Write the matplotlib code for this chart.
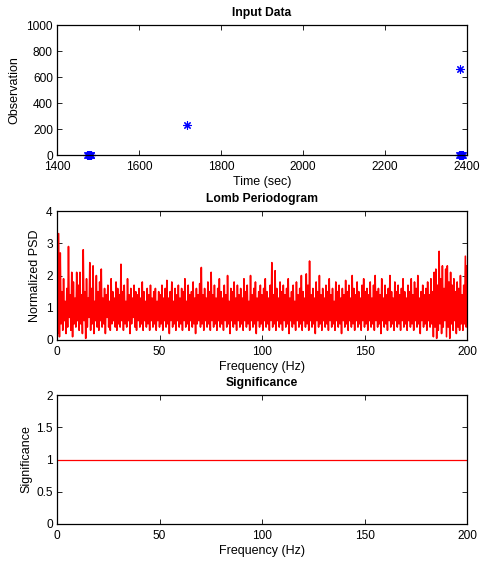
import numpy as np
import matplotlib
matplotlib.use("Agg")
import matplotlib.pyplot as plt

plt.rcParams["font.family"] = ["Liberation Sans", "DejaVu Sans"]
plt.rcParams["font.size"] = 9

# Input samples: time stamps (sec) and observed values
obs_time = [1474, 1476, 1478, 1480, 1482, 1484, 1717, 2383,
            2381, 2383, 2385, 2387, 2389, 2391]
obs_value = [0, 0, 0, 0, 0, 0, 233, 661,
             0, 0, 0, 0, 0, 0]

# Lomb periodogram (normalized PSD), evaluated on a 0..200 Hz grid
psd = [
    4.0, 0.2, 3.3, 0.1, 2.7, 0.5, 1.5, 0.3, 1.9, 0.6, 1.2, 0.2, 1.6, 0.4, 2.9, 0.7, 1.4, 0.3, 2.1, 0.1, 1.8, 0.5, 1.3, 0.4, 2.1,
    0.6, 1.7, 0.3, 2.1, 0.5, 1.4, 0.2, 2.8, 0.6, 1.5, 0.05, 1.9, 0.4, 1.3, 0.7, 2.4, 0.3, 1.6, 0.5, 2.3, 0.2, 1.2, 0.6, 2.0, 0.4,
    1.5, 0.3, 1.8, 0.6, 2.2, 0.4, 1.3, 0.5, 1.6, 0.2, 1.4, 0.7, 1.7, 0.4, 1.2, 0.3, 1.9, 0.5, 1.5, 0.6, 1.3, 0.4, 1.8, 0.3, 1.6,
    0.5, 1.4, 0.4, 2.35, 0.6, 1.5, 0.3, 1.7, 0.5, 1.2, 0.4, 1.9, 0.6, 1.4, 0.2, 1.6, 0.5, 1.3, 0.7, 1.7, 0.4, 1.5, 0.3, 1.4, 0.6,
    1.6, 0.4, 1.3, 0.5, 1.8, 0.3, 1.5, 0.6, 1.2, 0.4, 1.6, 0.5, 1.4, 0.3, 1.7, 0.6, 1.3, 0.4, 1.5, 0.5, 1.6, 0.3, 1.2, 0.6, 1.5,
    0.4, 1.4, 0.5, 1.7, 0.3, 1.3, 0.6, 1.6, 0.4, 1.85, 0.5, 1.3, 0.2, 1.5, 0.6, 1.8, 0.4, 1.2, 0.5, 1.6, 0.3, 1.4, 0.6, 1.7, 0.4,
    1.3, 0.5, 1.6, 0.3, 1.5, 0.6, 1.9, 0.4, 1.2, 0.5, 1.7, 0.3, 1.4, 0.6, 1.5, 0.4, 1.8, 0.5, 1.3, 0.2, 1.6, 0.5, 1.4, 0.6, 1.75,
    0.4, 2.25, 0.5, 1.4, 0.3, 1.6, 0.6, 1.3, 0.4, 1.8, 0.5, 1.5, 0.3, 2.1, 0.6, 1.4, 0.4, 1.7, 0.5, 1.3, 0.3, 1.6, 0.6, 1.9, 0.4,
    1.5, 0.5, 1.3, 0.3, 1.7, 0.6, 1.4, 0.4, 2.0, 0.5, 1.2, 0.2, 1.6, 0.6, 1.5, 0.4, 1.8, 0.5, 1.3, 0.3, 1.7, 0.6, 1.4, 0.4, 1.6,
    0.5, 1.3, 0.3, 1.9, 0.6, 1.5, 0.4, 1.7, 0.5, 1.2, 0.3, 2.0, 0.6, 1.4, 0.4, 1.6, 0.5, 1.8, 0.2, 1.3, 0.6, 1.5, 0.4, 1.7, 0.5,
    1.4, 0.3, 1.6, 0.6, 1.9, 0.4, 1.5, 0.5, 1.3, 0.3, 1.7, 0.6, 2.4, 0.4, 1.4, 0.5, 2.15, 0.3, 1.6, 0.6, 1.3, 0.4, 1.8, 0.5, 1.5,
    0.3, 1.7, 0.6, 1.4, 0.4, 1.6, 0.5, 1.9, 0.2, 1.3, 0.6, 1.5, 0.4, 1.7, 0.5, 1.2, 0.3, 1.8, 0.6, 1.4, 0.4, 1.6, 0.5, 2.0, 0.3,
    1.5, 0.6, 1.3, 0.4, 2.05, 0.5, 1.7, 0.3, 2.45, 0.6, 1.4, 0.4, 1.6, 0.5, 1.3, 0.2, 1.8, 0.6, 1.5, 0.4, 2.0, 0.5, 1.4, 0.3, 1.6,
    0.6, 1.3, 0.4, 1.7, 0.5, 1.5, 0.3, 1.9, 0.6, 1.4, 0.4, 1.6, 0.5, 1.2, 0.3, 1.8, 0.6, 1.5, 0.4, 1.7, 0.5, 1.3, 0.2, 1.6, 0.6,
    1.4, 0.4, 1.85, 0.5, 1.5, 0.3, 1.7, 0.6, 1.3, 0.4, 2.0, 0.5, 1.6, 0.3, 1.4, 0.6, 1.8, 0.4, 1.5, 0.5, 1.3, 0.3, 1.7, 0.6, 1.9,
    0.4, 1.5, 0.5, 1.6, 0.3, 1.4, 0.6, 1.8, 0.4, 1.3, 0.5, 1.7, 0.3, 2.0, 0.6, 1.5, 0.4, 1.6, 0.5, 1.4, 0.2, 1.9, 0.6, 1.3, 0.4,
    1.7, 0.5, 1.4, 0.3, 1.6, 0.6, 2.0, 0.4, 1.5, 0.5, 1.3, 0.3, 1.8, 0.6, 1.5, 0.4, 1.7, 0.5, 1.4, 0.3, 1.6, 0.6, 1.9, 0.4, 1.5,
    0.5, 1.3, 0.3, 1.7, 0.6, 1.5, 0.4, 1.9, 0.5, 1.4, 0.3, 1.8, 0.6, 1.6, 0.4, 2.0, 0.5, 1.3, 0.2, 1.5, 0.6, 1.7, 0.4, 1.4, 0.5,
    1.6, 0.3, 1.8, 0.6, 1.4, 0.4, 1.9, 0.5, 1.5, 0.1, 2.1, 0.4, 2.2, 0.05, 1.7, 0.3, 2.75, 0.5, 1.9, 0.2, 2.3, 0.4, 1.6, 0.6, 2.2,
    0.1, 2.3, 0.4, 1.8, 0.05, 2.1, 0.5, 1.7, 0.3, 1.9, 0.6, 1.5, 0.2, 1.8, 0.4, 1.6, 0.3, 2.0, 0.5, 1.4, 0.3, 1.7, 0.5, 2.6, 0.4,
    2.3,
]
freq = np.linspace(0, 200, len(psd))

# Significance level over the same grid
significance = [1.0] * len(psd)

fig = plt.figure(figsize=(4.8, 5.63), dpi=100)
left, width = 57 / 480, 410 / 480
ax1 = fig.add_axes([left, 1 - 155 / 563, width, 130 / 563])
ax2 = fig.add_axes([left, 1 - 340 / 563, width, 129 / 563])
ax3 = fig.add_axes([left, 1 - 524 / 563, width, 129 / 563])

TICK_FS = 8.6
LABEL_FS = 9
TITLE_FS = 8.7


def matlab_style(ax):
    ax.tick_params(direction="in", top=True, right=True, length=3.5,
                   width=0.6, labelsize=TICK_FS)
    ax.tick_params(axis="x", pad=4.3)
    ax.tick_params(axis="y", pad=3)
    for s in ax.spines.values():
        s.set_linewidth(0.9)


ax1.plot(obs_time, obs_value, linestyle="none", marker=(8, 2, 0),
         markersize=6, markeredgewidth=0.8, color="blue", clip_on=False)
ax1.set_xlim(1400, 2400)
ax1.set_ylim(0, 1000)
ax1.set_xticks(range(1400, 2401, 200))
ax1.set_yticks(range(0, 1001, 200))
ax1.set_xlabel("Time (sec)", fontsize=LABEL_FS, labelpad=2)
ax1.set_ylabel("Observation", fontsize=LABEL_FS, labelpad=4)
ax1.set_title("Input Data", fontweight="bold", fontsize=TITLE_FS, pad=6.5)
matlab_style(ax1)

ax2.plot(freq, psd, color="red", linewidth=1.15)
ax2.set_xlim(0, 200)
ax2.set_ylim(0, 4)
ax2.set_xticks(range(0, 201, 50))
ax2.set_yticks(range(0, 5))
ax2.set_xlabel("Frequency (Hz)", fontsize=LABEL_FS, labelpad=2)
ax2.set_ylabel("Normalized PSD", fontsize=LABEL_FS, labelpad=4)
ax2.set_title("Lomb Periodogram", fontweight="bold", fontsize=TITLE_FS, pad=6.5)
matlab_style(ax2)

ax3.plot(freq, significance, color="red", linewidth=0.9)
ax3.set_xlim(0, 200)
ax3.set_ylim(0, 2)
ax3.set_xticks(range(0, 201, 50))
ax3.set_yticks([0, 0.5, 1, 1.5, 2])
ax3.set_yticklabels(["0", "0.5", "1", "1.5", "2"])
ax3.set_xlabel("Frequency (Hz)", fontsize=LABEL_FS, labelpad=2)
ax3.set_ylabel("Significance", fontsize=LABEL_FS, labelpad=2.5)
ax3.set_title("Significance", fontweight="bold", fontsize=TITLE_FS, pad=6.5)
matlab_style(ax3)

fig.savefig("out.png", dpi=100)
